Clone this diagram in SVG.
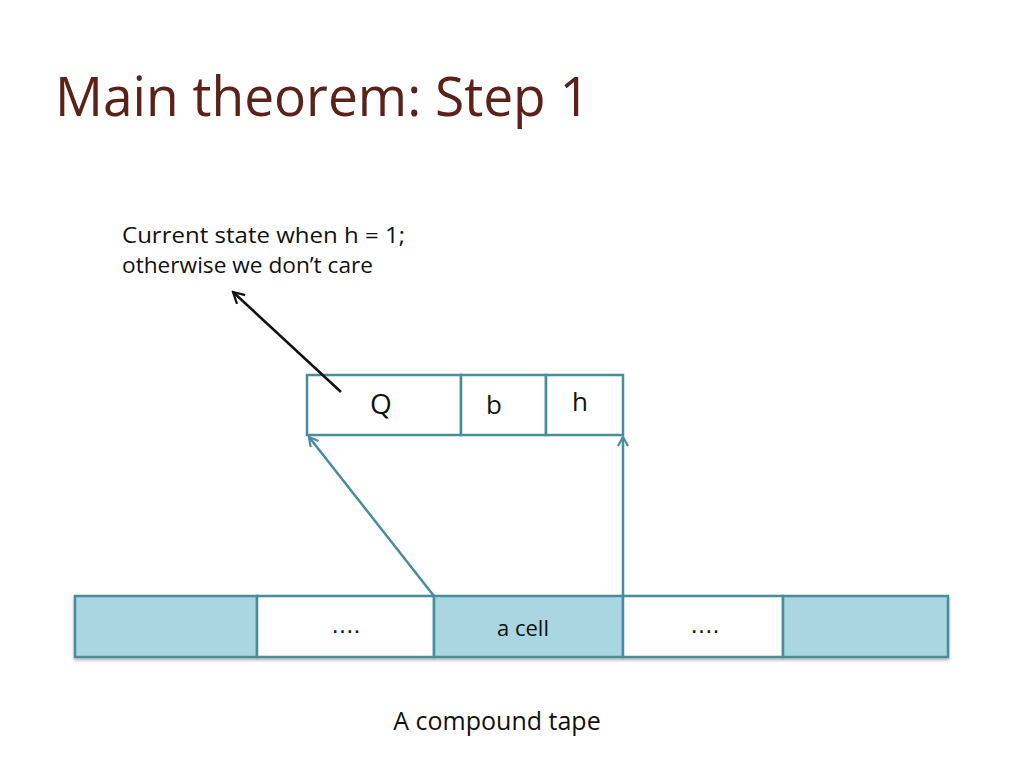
<svg xmlns="http://www.w3.org/2000/svg" width="1024" height="768" viewBox="0 0 1024 768">
<style>
.t{font-family:"Open Sans","Liberation Sans",sans-serif;fill:#111}
.dots{font-family:"DejaVu Sans",sans-serif;fill:#111;font-size:22px}
.box{stroke:#4a8c9c;stroke-width:2.5}
.blue{fill:#a9d6e1}
.white{fill:#fff}
.conn{stroke:#4a8c9c;stroke-width:2.5;fill:none}
</style>
<defs>
<marker id="ab" viewBox="0 0 12 12" refX="10" refY="6" markerWidth="12" markerHeight="12" markerUnits="userSpaceOnUse" orient="auto"><path d="M1,1 L10,6 L1,11" fill="none" stroke="#4a8c9c" stroke-width="2.2"/></marker>
<marker id="ak" viewBox="0 0 14 14" refX="12" refY="7" markerWidth="14" markerHeight="14" markerUnits="userSpaceOnUse" orient="auto"><path d="M1,1 L12,7 L1,13" fill="none" stroke="#111" stroke-width="2.2"/></marker>
<filter id="sh" x="-5%" y="-20%" width="110%" height="150%"><feDropShadow dx="0" dy="2" stdDeviation="1.5" flood-color="#000" flood-opacity="0.3"/></filter>
</defs>
<rect width="1024" height="768" fill="#fff"/>
<text x="55" y="116" font-family="'Open Sans','Liberation Sans',sans-serif" font-size="55" fill="#5a2218" textLength="535" lengthAdjust="spacingAndGlyphs">Main theorem:  Step 1</text>
<g id="note">
<text class="t" x="122" y="243" font-size="21" textLength="283" lengthAdjust="spacingAndGlyphs">Current state when h = 1;</text>
<text class="t" x="122" y="273" font-size="21" textLength="251" lengthAdjust="spacingAndGlyphs">otherwise we don’t care</text>
</g>
<g id="compound-cell">
<rect class="box white" x="307" y="375" width="154" height="60"/>
<rect class="box white" x="461" y="375" width="85" height="60"/>
<rect class="box white" x="546" y="375" width="77" height="60"/>
<text class="t" x="381" y="414" font-size="28" text-anchor="middle">Q</text>
<text class="t" x="494" y="414" font-size="26" text-anchor="middle">b</text>
<text class="t" x="580" y="411" font-size="26" text-anchor="middle">h</text>
</g>
<g id="tape" filter="url(#sh)">
<rect class="box blue" x="75" y="596" width="182" height="61"/>
<rect class="box white" x="257" y="596" width="177" height="61"/>
<rect class="box blue" x="434" y="596" width="189" height="61"/>
<rect class="box white" x="623" y="596" width="160" height="61"/>
<rect class="box blue" x="783" y="596" width="165" height="61"/>
</g>
<g id="tape-labels">
<text class="dots" x="346" y="633" text-anchor="middle">….</text>
<text class="t" x="523" y="636" font-size="22" text-anchor="middle">a cell</text>
<text class="dots" x="705" y="633" text-anchor="middle">….</text>
<text class="t" x="497" y="730" font-size="25" text-anchor="middle">A compound tape</text>
</g>
<g id="connectors">
<line class="conn" x1="434" y1="596" x2="309" y2="437" marker-end="url(#ab)"/>
<line class="conn" x1="623" y1="596" x2="623" y2="437" marker-end="url(#ab)"/>
<line x1="341" y1="392" x2="233" y2="292" stroke="#111" stroke-width="2.5" marker-end="url(#ak)"/>
</g>
</svg>
